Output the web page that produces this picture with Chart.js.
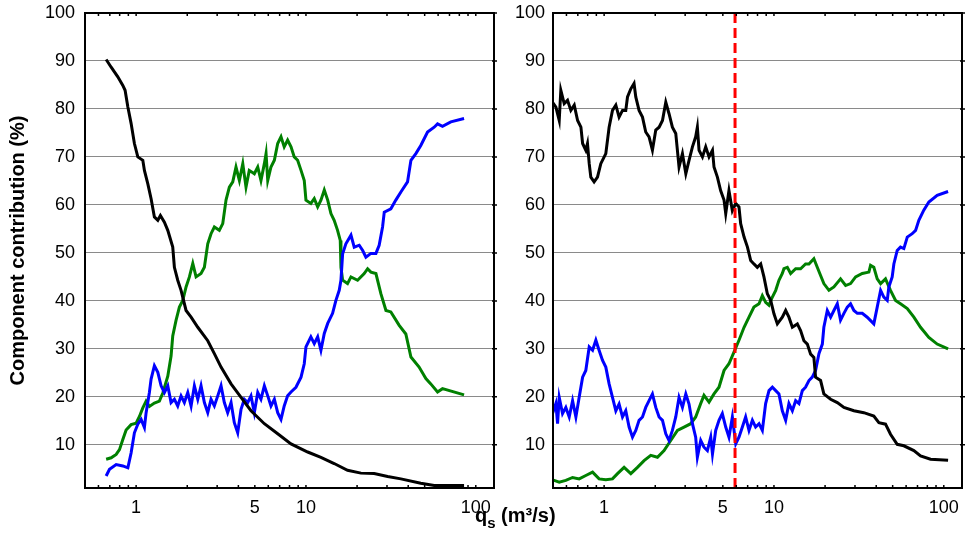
<!DOCTYPE html>
<html lang="en">
<head>
<meta charset="UTF-8">
<title>Component contribution</title>
<script src="https://cdn.jsdelivr.net/npm/chart.js"></script>
<style>
  body { margin: 0; background: #fff; }
  .wrap { position: relative; width: 968px; height: 552px; }
  #leftChart { position: absolute; left: 0; top: 0; }
  #rightChart { position: absolute; left: 500px; top: 0; }
  .xtitle {
    position: absolute; left: 475px; top: 504px;
    font: bold 20px "Liberation Sans", Arial, sans-serif;
    line-height: 22px; white-space: nowrap;
  }
  .xtitle sub { font-size: 15px; vertical-align: baseline; position: relative; top: 6px; }
</style>
</head>
<body>
<div class="wrap">
  <canvas id="leftChart" width="500" height="552"></canvas>
  <canvas id="rightChart" width="468" height="552"></canvas>
  <div class="xtitle">q<sub>s</sub> (m³/s)</div>
</div>

<script>
// axis ticks
const xTicks = [1, 5, 10, 100];
const yTicks = [10, 20, 30, 40, 50, 60, 70, 80, 90, 100];
const xMinorTicks = [0.5, 0.6, 0.7, 0.8, 0.9, 1, 2, 3, 4, 5, 6, 7, 8, 9, 10, 20, 30, 40, 50, 60, 70, 80, 90, 100];

// left panel: [qs (m3/s), contribution (%)]
const leftBlack = [[0.666,90.3],[0.713,88.7],[0.780,86.7],[0.835,84.9],[0.861,83.9],[0.894,80.4],[0.934,77.0],[0.977,72.8],[1.023,70.0],[1.095,69.3],[1.119,67.2],[1.172,64.4],[1.225,61.3],[1.281,57.5],[1.342,56.8],[1.390,57.8],[1.467,56.4],[1.536,54.7],[1.643,51.2],[1.680,47.0],[1.758,44.3],[1.839,42.2],[1.968,38.0],[2.107,36.6],[2.307,34.5],[2.641,31.7],[2.888,29.0],[3.162,26.2],[3.622,22.7],[4.147,19.9],[4.746,17.1],[5.689,14.4],[6.817,12.3],[8.166,10.2],[10.24,8.5],[12.25,7.4],[14.66,6.1],[17.57,4.7],[21.07,4.1],[25.22,4.0],[30.26,3.4],[36.22,2.9],[47.44,2.0],[56.89,1.5],[85.3,1.5]];

const leftGreen = [[0.666,7.0],[0.713,7.3],[0.763,8.0],[0.798,9.0],[0.835,11.1],[0.873,13.1],[0.934,14.2],[1.0,14.5],[1.046,15.9],[1.095,17.7],[1.145,19.1],[1.197,18.0],[1.281,18.7],[1.371,19.1],[1.436,20.8],[1.536,24.3],[1.606,28.5],[1.643,32.7],[1.719,36.0],[1.798,38.7],[1.882,40.1],[1.968,42.9],[2.059,45.0],[2.156,47.8],[2.254,45.0],[2.411,45.7],[2.523,47.0],[2.641,51.9],[2.761,54.0],[2.888,55.4],[3.090,54.7],[3.236,56.1],[3.383,61.0],[3.540,63.7],[3.707,64.8],[3.873,67.9],[4.055,65.1],[4.246,68.6],[4.436,63.7],[4.636,67.2],[4.966,66.5],[5.200,67.9],[5.433,65.1],[5.689,68.6],[5.821,70.7],[5.957,65.1],[6.223,67.9],[6.516,69.3],[6.817,72.8],[7.129,74.2],[7.447,72.1],[7.798,73.5],[8.166,72.1],[8.531,70.0],[8.933,69.3],[9.354,67.2],[9.772,65.1],[10.0,61.0],[10.69,60.3],[11.19,61.3],[11.72,59.6],[12.25,61.0],[12.82,63.1],[13.43,61.0],[14.03,58.2],[14.66,56.8],[15.35,54.7],[15.92,52.6],[16.07,47.0],[16.44,44.3],[17.57,43.6],[18.41,45.0],[20.14,44.3],[22.03,45.7],[23.07,46.7],[24.12,46.0],[25.82,45.7],[27.61,41.5],[29.58,38.0],[31.62,37.7],[35.40,34.9],[38.73,33.1],[41.50,28.3],[46.36,26.2],[50.82,23.8],[54.33,22.7],[59.54,21.0],[63.68,21.7],[85.3,20.4]];

const leftBlue = [[0.666,3.5],[0.697,4.9],[0.763,5.9],[0.835,5.6],[0.894,5.2],[0.934,8.3],[0.977,12.5],[1.023,14.3],[1.070,15.3],[1.119,13.6],[1.145,16.7],[1.197,20.9],[1.225,23.7],[1.281,26.5],[1.342,25.1],[1.403,22.3],[1.467,20.9],[1.536,22.3],[1.606,18.8],[1.680,19.5],[1.758,18.1],[1.839,20.2],[1.923,18.8],[2.014,20.9],[2.107,18.1],[2.203,22.3],[2.307,19.5],[2.411,22.3],[2.523,18.8],[2.641,16.7],[2.761,19.5],[2.888,18.1],[3.024,20.2],[3.162,22.3],[3.307,18.8],[3.460,16.7],[3.622,18.8],[3.786,14.6],[3.964,12.5],[4.147,17.4],[4.335,19.5],[4.539,18.8],[4.746,20.2],[4.966,16.7],[5.200,20.9],[5.433,19.5],[5.689,22.3],[5.957,20.2],[6.223,18.1],[6.516,19.5],[6.817,16.7],[7.129,15.3],[7.447,18.1],[7.798,20.2],[8.166,21.0],[8.730,22.0],[9.354,24.1],[9.772,26.9],[10.0,30.4],[10.69,32.5],[11.19,31.1],[11.72,32.5],[12.25,29.7],[12.82,33.2],[13.43,35.3],[14.35,37.4],[15.01,40.1],[15.70,42.2],[16.07,44.3],[16.44,49.8],[17.18,51.9],[18.41,53.7],[19.24,51.2],[20.59,51.6],[21.58,50.5],[22.54,49.1],[24.12,49.9],[25.82,49.9],[26.98,51.6],[28.25,55.4],[28.91,58.5],[31.62,59.2],[33.81,61.0],[36.22,62.7],[39.63,64.8],[41.50,69.3],[44.36,70.7],[47.44,72.4],[51.99,75.2],[56.89,76.2],[59.54,76.9],[63.68,76.4],[71.29,77.3],[85.3,78.0]];

// right panel
const rightBlack = [[0.497,81.4],[0.520,80.4],[0.544,77.6],[0.556,83.9],[0.582,81.1],[0.609,81.8],[0.637,79.7],[0.667,80.8],[0.698,77.6],[0.730,76.2],[0.747,72.8],[0.780,71.4],[0.798,72.8],[0.817,68.6],[0.835,65.8],[0.873,64.8],[0.914,65.8],[0.956,68.6],[1.023,70.7],[1.070,76.2],[1.120,79.7],[1.172,80.8],[1.225,78.3],[1.283,79.7],[1.341,79.7],[1.373,82.5],[1.436,84.2],[1.500,85.3],[1.536,82.5],[1.606,79.7],[1.682,78.3],[1.758,75.2],[1.839,74.2],[1.925,71.4],[2.014,75.6],[2.107,76.2],[2.206,77.6],[2.307,81.4],[2.411,79.0],[2.523,76.2],[2.641,74.9],[2.761,67.9],[2.891,70.7],[3.027,66.5],[3.162,69.3],[3.311,72.1],[3.460,74.2],[3.540,76.2],[3.622,71.4],[3.793,70.0],[3.964,72.1],[4.147,70.0],[4.345,71.4],[4.436,67.9],[4.645,65.8],[4.853,63.0],[5.082,61.0],[5.200,58.2],[5.433,63.0],[5.689,58.8],[5.957,60.3],[6.223,59.6],[6.368,56.1],[6.668,53.3],[6.982,51.2],[7.295,48.4],[7.621,47.7],[7.980,47.0],[8.356,47.7],[8.730,45.0],[9.141,41.5],[9.572,40.1],[10.0,37.3],[10.47,35.2],[11.20,36.6],[11.72,38.0],[12.25,36.6],[12.83,34.5],[13.73,35.2],[14.35,33.8],[15.01,31.7],[15.72,31.0],[16.44,28.9],[17.18,28.2],[17.58,24.1],[18.82,23.4],[19.67,20.6],[21.56,19.5],[23.60,18.8],[25.82,17.8],[29.56,17.1],[33.81,16.7],[38.73,16.0],[41.47,14.6],[45.38,14.3],[48.56,12.2],[53.17,10.1],[58.19,9.8],[66.65,8.8],[72.95,7.7],[83.54,7.0],[106,6.8]];

const rightGreen = [[0.497,2.7],[0.544,2.2],[0.595,2.6],[0.652,3.2],[0.713,2.9],[0.780,3.6],[0.855,4.3],[0.934,2.9],[1.023,2.7],[1.120,2.9],[1.199,4.0],[1.311,5.3],[1.436,4.0],[1.571,5.3],[1.719,6.7],[1.882,7.8],[2.061,7.4],[2.254,8.8],[2.467,10.9],[2.702,13.0],[2.956,13.7],[3.236,14.4],[3.460,15.8],[3.705,18.6],[3.873,20.3],[4.147,18.9],[4.436,20.6],[4.746,22.0],[5.082,25.5],[5.433,26.9],[5.815,29.3],[6.223,31.8],[6.668,34.5],[7.129,36.6],[7.621,38.7],[8.166,39.4],[8.543,41.1],[8.933,39.7],[9.349,39.1],[9.788,40.8],[10.24,42.2],[10.70,44.3],[11.20,45.7],[11.45,46.7],[11.99,47.0],[12.54,45.7],[13.42,46.7],[14.35,46.7],[15.35,47.7],[16.07,47.7],[17.18,48.8],[17.99,47.0],[18.82,45.3],[19.67,43.6],[21.07,42.2],[22.54,42.9],[24.66,44.6],[26.42,43.2],[28.25,43.6],[30.26,45.0],[33.11,45.7],[36.22,46.0],[37.06,47.4],[38.73,47.0],[40.55,44.6],[42.46,43.6],[45.38,44.6],[48.56,42.2],[51.99,40.1],[55.59,39.4],[60.95,38.4],[66.65,36.6],[72.95,34.5],[81.66,32.4],[91.41,31.0],[106,30.0]];

const rightBlue = [[0.497,16.5],[0.520,18.6],[0.532,14.4],[0.544,19.9],[0.569,16.5],[0.595,17.8],[0.623,15.8],[0.652,19.2],[0.682,15.8],[0.713,19.9],[0.747,24.1],[0.780,25.5],[0.817,30.4],[0.855,29.7],[0.894,31.8],[0.934,29.7],[0.979,27.6],[1.023,26.2],[1.070,22.7],[1.120,19.9],[1.172,17.1],[1.225,18.5],[1.283,15.8],[1.341,17.1],[1.403,13.7],[1.469,11.6],[1.536,13.0],[1.606,15.1],[1.682,15.8],[1.758,17.8],[1.839,19.2],[1.925,20.6],[2.014,17.8],[2.107,15.8],[2.206,15.1],[2.307,12.3],[2.411,10.9],[2.523,13.0],[2.641,15.8],[2.761,19.9],[2.891,17.8],[3.027,20.6],[3.162,18.5],[3.311,14.4],[3.460,11.6],[3.540,7.4],[3.705,10.9],[3.873,9.5],[4.055,8.8],[4.243,11.6],[4.345,8.1],[4.539,13.0],[4.746,15.1],[4.966,16.5],[5.200,13.7],[5.433,11.6],[5.689,15.8],[5.957,10.2],[6.223,11.6],[6.516,13.7],[6.812,15.8],[7.129,13.0],[7.464,15.1],[7.798,13.7],[8.166,14.4],[8.543,13.0],[8.933,18.6],[9.349,21.3],[9.788,22.0],[10.24,21.3],[10.70,20.6],[11.20,17.1],[11.72,15.1],[12.25,18.6],[12.83,17.1],[13.42,19.2],[14.03,18.6],[14.69,21.3],[15.35,22.0],[16.07,23.4],[16.81,24.1],[17.58,25.5],[18.40,29.0],[19.27,31.0],[19.67,34.5],[20.61,38.0],[21.56,36.6],[22.54,38.0],[23.60,39.4],[24.66,36.0],[25.82,37.4],[27.03,38.7],[28.25,39.4],[29.56,38.0],[30.97,37.4],[33.11,37.4],[35.40,36.6],[38.73,35.2],[40.55,38.7],[42.46,42.2],[44.36,40.8],[46.45,40.1],[47.47,42.9],[49.68,45.0],[50.82,47.7],[53.17,50.5],[55.59,51.2],[58.19,50.9],[60.95,53.3],[65.16,54.0],[68.23,54.7],[71.29,56.8],[76.25,58.9],[81.66,60.6],[91.41,62.0],[106,62.8]];

// threshold discharge marked in the right panel
const thresholdQs = 5.9;

Chart.defaults.font.family = '"Liberation Sans", Arial, sans-serif';
Chart.defaults.color = '#000';

function series(pairs, color) {
  return {
    data: pairs.map(([q, p]) => ({ x: q, y: p })),
    borderColor: color,
    borderWidth: 3,
    pointRadius: 0,
    tension: 0,
    fill: false
  };
}

// box around the plot area plus the small log ticks along top and bottom
const frame = {
  id: 'frame',
  afterDatasetsDraw(chart) {
    const { ctx, chartArea: a, scales: { x, y } } = chart;
    ctx.save();
    ctx.strokeStyle = '#000';
    ctx.lineWidth = 1.5;
    ctx.beginPath();
    xMinorTicks.forEach(v => {
      const px = x.getPixelForValue(v);
      ctx.moveTo(px, a.bottom); ctx.lineTo(px, a.bottom - 3);
      ctx.moveTo(px, a.top); ctx.lineTo(px, a.top + 3);
    });
    yTicks.forEach(v => {
      const py = y.getPixelForValue(v);
      ctx.moveTo(a.right - 2, py); ctx.lineTo(a.right + 3, py);
    });
    ctx.stroke();
    ctx.lineWidth = 2;
    ctx.strokeRect(a.left, a.top, a.right - a.left, a.bottom - a.top);
    ctx.restore();
  }
};

function buildChart(id, datasets, yWidth, yPad, showTitle) {
  return new Chart(document.getElementById(id), {
    type: 'line',
    data: { datasets },
    options: {
      responsive: false,
      animation: false,
      devicePixelRatio: 1,
      layout: { padding: { top: 13, right: 6, left: 0, bottom: 0 } },
      plugins: { legend: { display: false }, tooltip: { enabled: false } },
      scales: {
        x: {
          type: 'logarithmic',
          min: 0.5,
          max: 128,
          afterBuildTicks: s => { s.ticks = xTicks.map(v => ({ value: v })); },
          afterFit: s => { s.height = 64; s.paddingLeft = 0; s.paddingRight = 0; },
          grid: { display: false, drawTicks: false },
          border: { display: false },
          ticks: { font: { size: 18 }, padding: 9, maxRotation: 0, autoSkip: false, callback: v => String(v) }
        },
        y: {
          min: 1,
          max: 100,
          afterBuildTicks: s => { s.ticks = yTicks.map(v => ({ value: v })); },
          afterFit: s => { s.width = yWidth; s.paddingTop = 0; s.paddingBottom = 0; },
          grid: {
            color: c => (c.tick && c.tick.value === 100) ? 'rgba(0,0,0,0)' : '#8a8a8a',
            lineWidth: 1,
            drawTicks: false
          },
          border: { display: false },
          ticks: { font: { size: 18 }, padding: yPad },
          title: {
            display: showTitle,
            text: 'Component contribution (%)',
            font: { size: 20, weight: 'bold' },
            padding: { top: 6, bottom: 0 }
          }
        }
      }
    },
    plugins: [frame]
  });
}

buildChart('leftChart', [
  series(leftBlack, '#000000'),
  series(leftBlue, '#0000ff'),
  series(leftGreen, '#008000')
], 85, 10, true);

buildChart('rightChart', [
  {
    data: [{ x: thresholdQs, y: 1 }, { x: thresholdQs, y: 100 }],
    borderColor: '#ff0000',
    borderWidth: 3,
    borderDash: [10, 5],
    pointRadius: 0
  },
  series(rightBlack, '#000000'),
  series(rightBlue, '#0000ff'),
  series(rightGreen, '#008000')
], 53, 8, false);
</script>
</body>
</html>
